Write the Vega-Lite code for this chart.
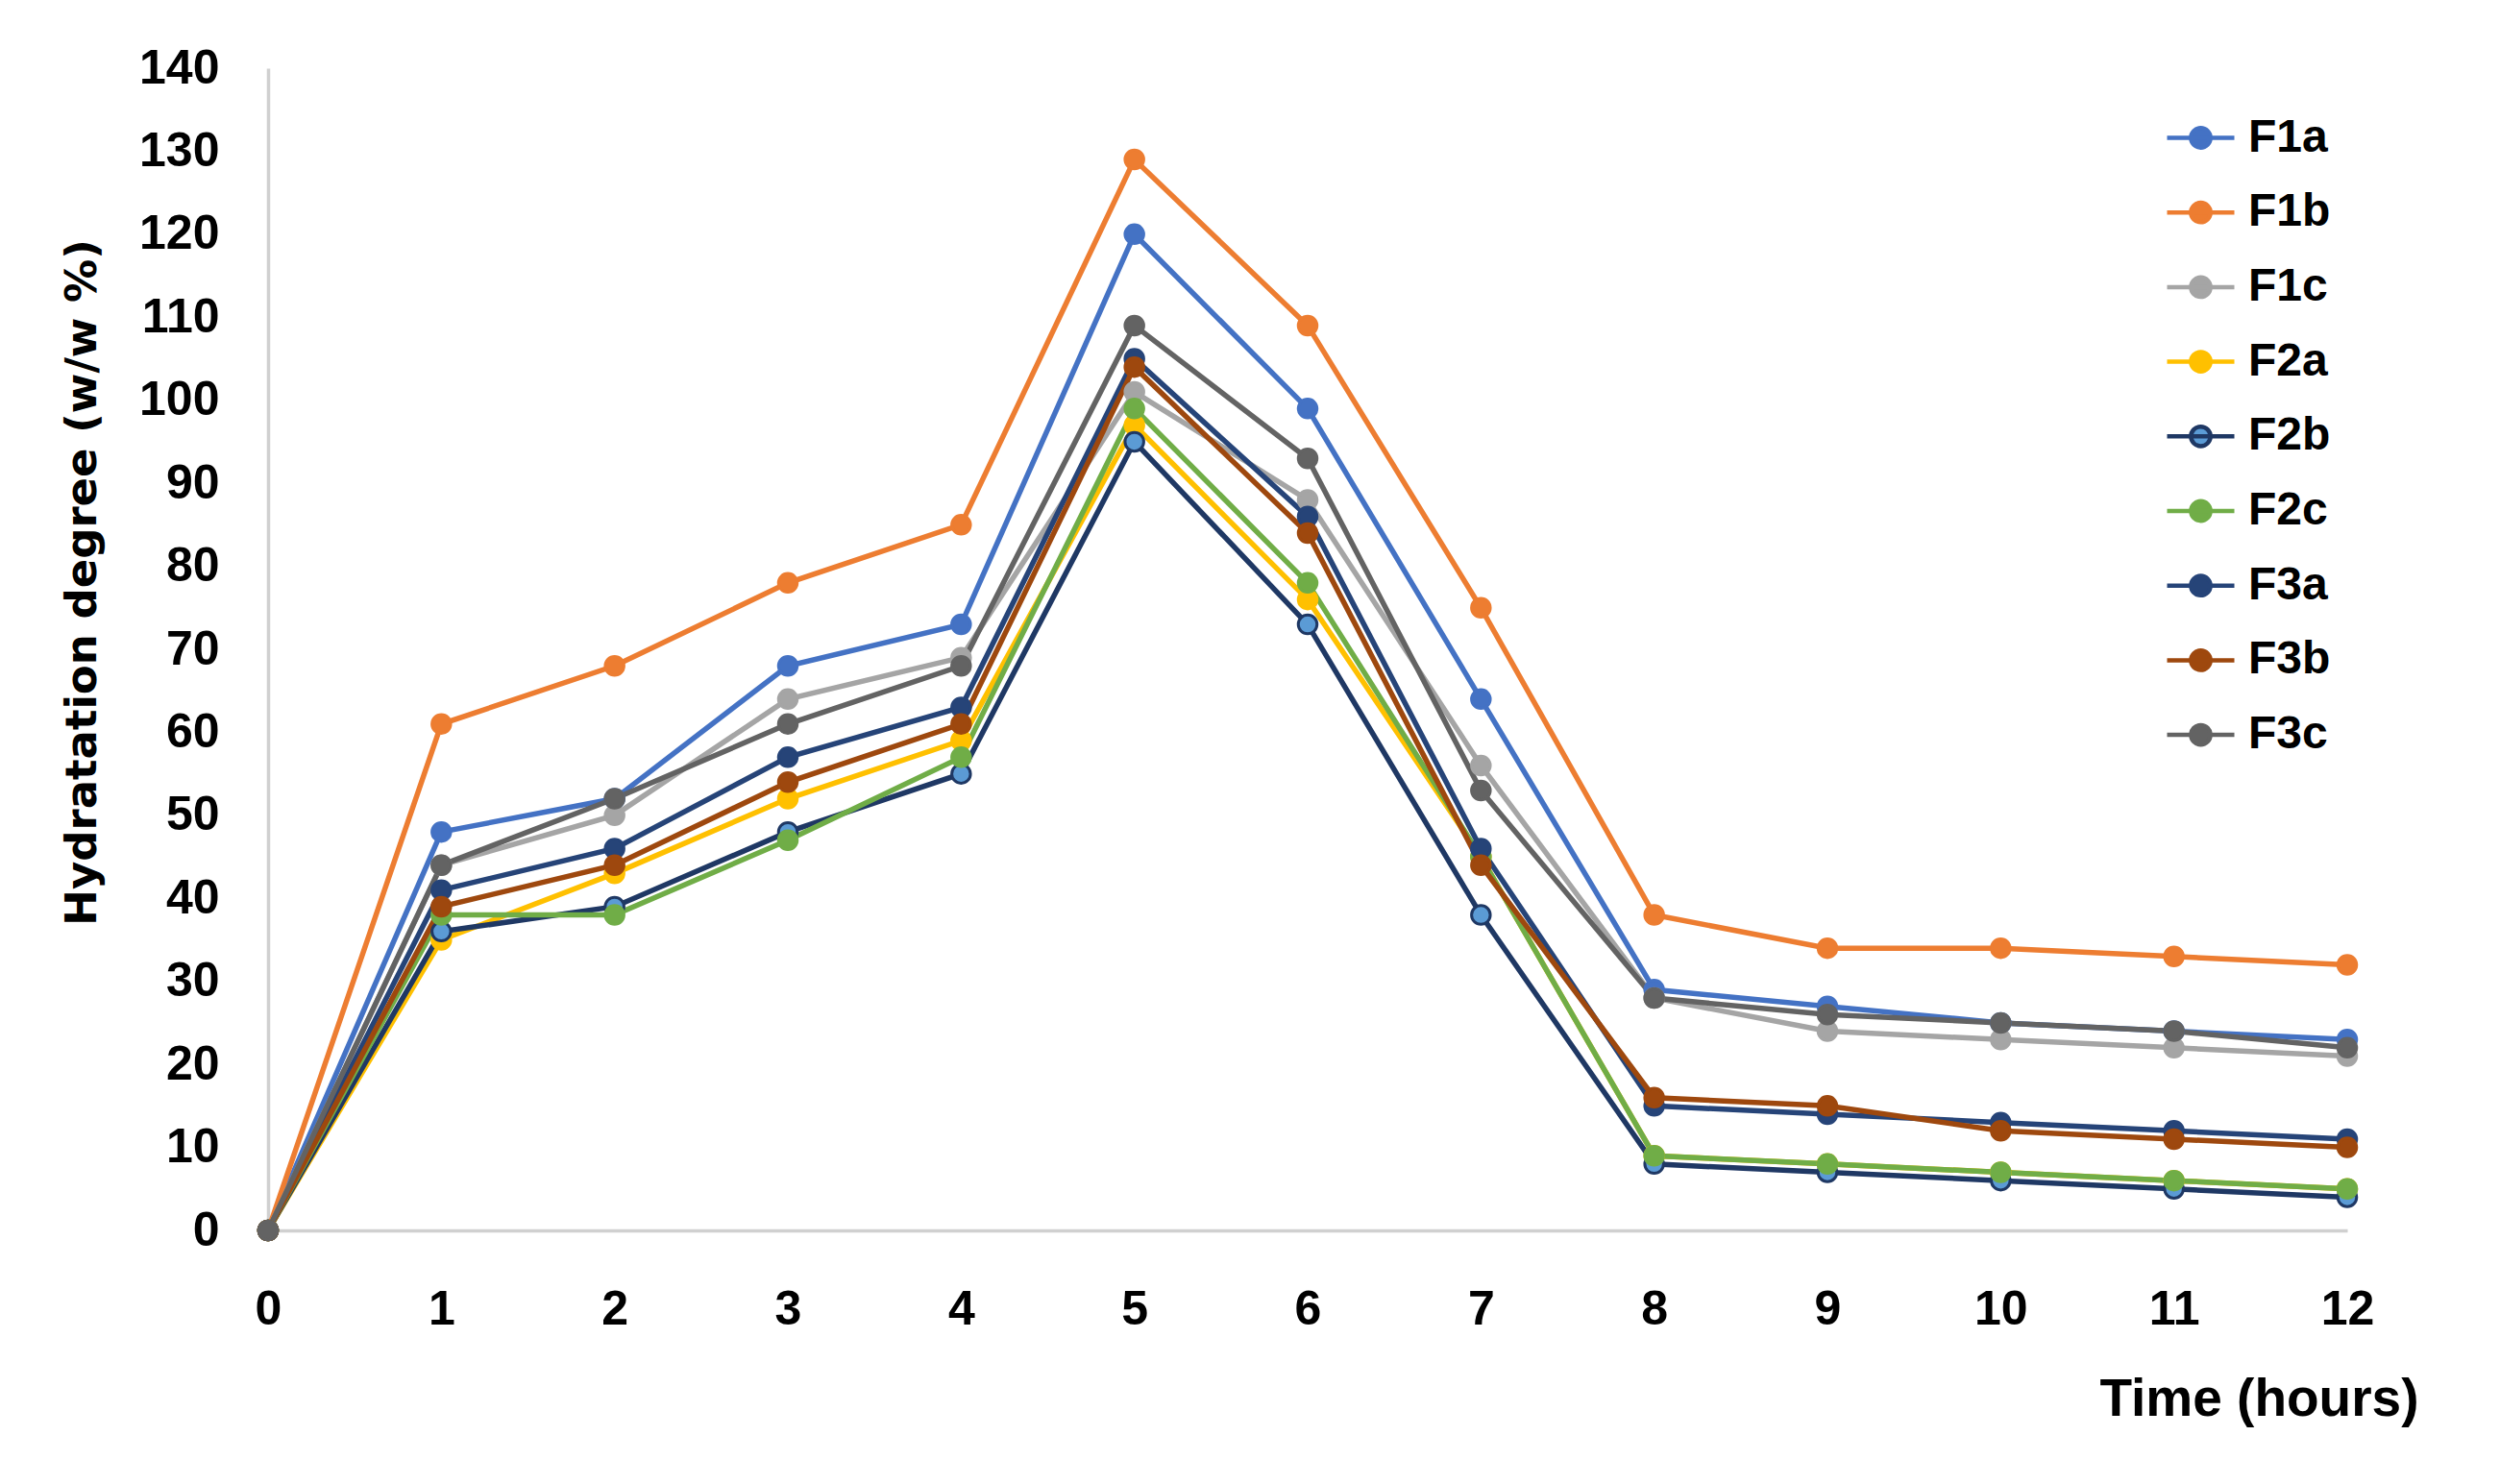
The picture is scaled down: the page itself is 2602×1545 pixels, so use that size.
{
  "$schema": "https://vega.github.io/schema/vega-lite/v6.json",
  "autosize": {"type": "none"},
  "padding": {"left": 279, "top": 71, "right": 159, "bottom": 264},
  "width": 2164,
  "height": 1210,
  "background": "white",
  "config": {
    "view": {"stroke": null},
    "font": "Liberation Sans",
    "legend": {
      "title": null, "orient": "none", "legendX": 1974, "legendY": 35,
      "symbolType": "M-1,0L1,0M-0.29,0A0.29,0.29,0,1,1,0.29,0A0.29,0.29,0,1,1,-0.29,0Z",
      "symbolSize": 4900, "symbolStrokeWidth": 4.5, "symbolOpacity": 1,
      "labelFont": "Liberation Sans", "labelFontSize": 48, "labelFontWeight": "bold", "labelColor": "black",
      "labelOffset": 12, "rowPadding": 15.7, "padding": 0
    }
  },
  "data": {
    "values": [
      {"t":0,"s":"F1a","v":0},{"t":1,"s":"F1a","v":48},{"t":2,"s":"F1a","v":52},{"t":3,"s":"F1a","v":68},{"t":4,"s":"F1a","v":73},{"t":5,"s":"F1a","v":120},{"t":6,"s":"F1a","v":99},{"t":7,"s":"F1a","v":64},{"t":8,"s":"F1a","v":29},{"t":9,"s":"F1a","v":27},{"t":10,"s":"F1a","v":25},{"t":11,"s":"F1a","v":24},{"t":12,"s":"F1a","v":23},
      {"t":0,"s":"F1b","v":0},{"t":1,"s":"F1b","v":61},{"t":2,"s":"F1b","v":68},{"t":3,"s":"F1b","v":78},{"t":4,"s":"F1b","v":85},{"t":5,"s":"F1b","v":129},{"t":6,"s":"F1b","v":109},{"t":7,"s":"F1b","v":75},{"t":8,"s":"F1b","v":38},{"t":9,"s":"F1b","v":34},{"t":10,"s":"F1b","v":34},{"t":11,"s":"F1b","v":33},{"t":12,"s":"F1b","v":32},
      {"t":0,"s":"F1c","v":0},{"t":1,"s":"F1c","v":44},{"t":2,"s":"F1c","v":50},{"t":3,"s":"F1c","v":64},{"t":4,"s":"F1c","v":69},{"t":5,"s":"F1c","v":101},{"t":6,"s":"F1c","v":88},{"t":7,"s":"F1c","v":56},{"t":8,"s":"F1c","v":28},{"t":9,"s":"F1c","v":24},{"t":10,"s":"F1c","v":23},{"t":11,"s":"F1c","v":22},{"t":12,"s":"F1c","v":21},
      {"t":0,"s":"F2a","v":0},{"t":1,"s":"F2a","v":35},{"t":2,"s":"F2a","v":43},{"t":3,"s":"F2a","v":52},{"t":4,"s":"F2a","v":59},{"t":5,"s":"F2a","v":97},{"t":6,"s":"F2a","v":76},{"t":7,"s":"F2a","v":45},{"t":8,"s":"F2a","v":9},{"t":9,"s":"F2a","v":8},{"t":10,"s":"F2a","v":7},{"t":11,"s":"F2a","v":6},{"t":12,"s":"F2a","v":5},
      {"t":0,"s":"F2b","v":0},{"t":1,"s":"F2b","v":36},{"t":2,"s":"F2b","v":39},{"t":3,"s":"F2b","v":48},{"t":4,"s":"F2b","v":55},{"t":5,"s":"F2b","v":95},{"t":6,"s":"F2b","v":73},{"t":7,"s":"F2b","v":38},{"t":8,"s":"F2b","v":8},{"t":9,"s":"F2b","v":7},{"t":10,"s":"F2b","v":6},{"t":11,"s":"F2b","v":5},{"t":12,"s":"F2b","v":4},
      {"t":0,"s":"F2c","v":0},{"t":1,"s":"F2c","v":38},{"t":2,"s":"F2c","v":38},{"t":3,"s":"F2c","v":47},{"t":4,"s":"F2c","v":57},{"t":5,"s":"F2c","v":99},{"t":6,"s":"F2c","v":78},{"t":7,"s":"F2c","v":45},{"t":8,"s":"F2c","v":9},{"t":9,"s":"F2c","v":8},{"t":10,"s":"F2c","v":7},{"t":11,"s":"F2c","v":6},{"t":12,"s":"F2c","v":5},
      {"t":0,"s":"F3a","v":0},{"t":1,"s":"F3a","v":41},{"t":2,"s":"F3a","v":46},{"t":3,"s":"F3a","v":57},{"t":4,"s":"F3a","v":63},{"t":5,"s":"F3a","v":105},{"t":6,"s":"F3a","v":86},{"t":7,"s":"F3a","v":46},{"t":8,"s":"F3a","v":15},{"t":9,"s":"F3a","v":14},{"t":10,"s":"F3a","v":13},{"t":11,"s":"F3a","v":12},{"t":12,"s":"F3a","v":11},
      {"t":0,"s":"F3b","v":0},{"t":1,"s":"F3b","v":39},{"t":2,"s":"F3b","v":44},{"t":3,"s":"F3b","v":54},{"t":4,"s":"F3b","v":61},{"t":5,"s":"F3b","v":104},{"t":6,"s":"F3b","v":84},{"t":7,"s":"F3b","v":44},{"t":8,"s":"F3b","v":16},{"t":9,"s":"F3b","v":15},{"t":10,"s":"F3b","v":12},{"t":11,"s":"F3b","v":11},{"t":12,"s":"F3b","v":10},
      {"t":0,"s":"F3c","v":0},{"t":1,"s":"F3c","v":44},{"t":2,"s":"F3c","v":52},{"t":3,"s":"F3c","v":61},{"t":4,"s":"F3c","v":68},{"t":5,"s":"F3c","v":109},{"t":6,"s":"F3c","v":93},{"t":7,"s":"F3c","v":53},{"t":8,"s":"F3c","v":28},{"t":9,"s":"F3c","v":26},{"t":10,"s":"F3c","v":25},{"t":11,"s":"F3c","v":24},{"t":12,"s":"F3c","v":22}
    ]
  },
  "encoding": {
    "x": {
      "field": "t", "type": "quantitative",
      "scale": {"domain": [0, 12], "nice": false, "zero": false},
      "axis": {
        "values": [0,1,2,3,4,5,6,7,8,9,10,11,12],
        "grid": false, "ticks": false, "tickSize": 0,
        "domainColor": "#D0D0D0", "domainWidth": 3.5,
        "labelFont": "Liberation Sans", "labelFontSize": 50, "labelFontWeight": "bold", "labelColor": "black",
        "labelBaseline": "middle", "labelPadding": 82, "labelFlush": false, "labelOverlap": false,
        "title": "Time (hours)",
        "titleFont": "Liberation Sans", "titleFontSize": 55, "titleFontWeight": "bold", "titleColor": "black",
        "titleX": 2238, "titleY": 192, "titleAlign": "right", "titleBaseline": "alphabetic", "titleAnchor": null
      }
    },
    "y": {
      "field": "v", "type": "quantitative",
      "scale": {"domain": [0, 140], "nice": false},
      "axis": {
        "values": [0,10,20,30,40,50,60,70,80,90,100,110,120,130,140],
        "grid": false, "ticks": false, "tickSize": 0,
        "domainColor": "#D0D0D0", "domainWidth": 3.5,
        "labelFont": "Liberation Sans", "labelFontSize": 50, "labelFontWeight": "bold", "labelColor": "black",
        "labelBaseline": "middle", "labelPadding": 51, "labelFlush": false, "labelOverlap": false,
        "title": "Hydratation degree (w/w %)",
        "titleFont": "DejaVu Sans", "titleFontSize": 45, "titleFontWeight": "bold", "titleColor": "black",
        "titleAngle": -90, "titleX": -194, "titleY": 535, "titleAlign": "center", "titleBaseline": "middle", "titleAnchor": null
      }
    }
  },
  "layer": [
    {
      "mark": {"type": "line", "strokeWidth": 5.5},
      "encoding": {
        "stroke": {
          "field": "s", "type": "nominal",
          "scale": {"domain": ["F1a","F1b","F1c","F2a","F2b","F2c","F3a","F3b","F3c"],
                    "range": ["#4472C4","#ED7D31","#A5A5A5","#FFC000","#1F3864","#70AD47","#264478","#9E480E","#636363"]}
        }
      }
    },
    {
      "mark": {"type": "circle", "size": 380, "opacity": 1, "strokeWidth": 3},
      "encoding": {
        "fill": {
          "field": "s", "type": "nominal",
          "scale": {"domain": ["F1a","F1b","F1c","F2a","F2b","F2c","F3a","F3b","F3c"],
                    "range": ["#4472C4","#ED7D31","#A5A5A5","#FFC000","#5B9BD5","#70AD47","#264478","#9E480E","#636363"]}
        },
        "stroke": {"field": "s", "type": "nominal"}
      }
    }
  ]
}
